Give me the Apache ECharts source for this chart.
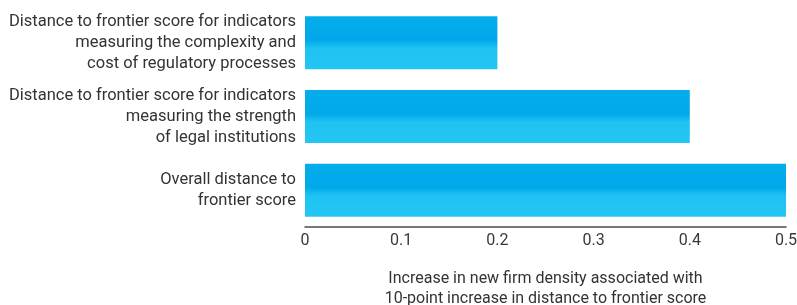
<!DOCTYPE html>
<html><head><meta charset="utf-8">
<script src="https://cdn.jsdelivr.net/npm/echarts@6/dist/echarts.min.js"></script>
<style>html,body{margin:0;padding:0;background:#fff}#c{width:797px;height:305px}</style>
</head><body><div id="c"></div>
<script>
const categories = [
  "Overall distance to\nfrontier score",
  "Distance to frontier score for indicators\nmeasuring the strength\nof legal institutions",
  "Distance to frontier score for indicators\nmeasuring the complexity and\ncost of regulatory processes"
];
const values = [0.5, 0.4, 0.2];
const xTicks = [0, 0.1, 0.2, 0.3, 0.4, 0.5];
const xAxisTitle = "Increase in new firm density associated with\n10-point increase in distance to frontier score";

const font = "Roboto, sans-serif";
const chart = echarts.init(document.getElementById('c'));
chart.setOption({
  animation: false,
  grid: { left: 305, right: 11, top: 6, bottom: 78, containLabel: false, outerBoundsMode: 'none' },
  xAxis: {
    type: 'value', min: 0, max: 0.5, interval: 0.1,
    axisLine: { show: true, lineStyle: { color: '#4a4a4a', width: 1.5 } },
    axisTick: { show: false },
    splitLine: { show: false },
    axisLabel: { color: '#3a3a3a', fontSize: 16, fontFamily: font, margin: 6,
      formatter: v => String(Math.round(v * 10) / 10) },
    name: xAxisTitle, nameLocation: 'middle', nameGap: 42,
    nameTextStyle: { color: '#333', fontSize: 16, fontFamily: font, lineHeight: 20 }
  },
  yAxis: {
    type: 'category', data: categories,
    axisLine: { show: false }, axisTick: { show: false },
    axisLabel: { color: '#333', fontSize: 16.5, fontFamily: font, lineHeight: 21, align: 'right', margin: 9 }
  },
  series: [{
    type: 'bar', data: values, barWidth: 53,
    itemStyle: {
      color: new echarts.graphic.LinearGradient(0, 0, 0, 1, [
        { offset: 0, color: '#06adec' },
        { offset: 0.45, color: '#00a8ea' },
        { offset: 0.6, color: '#1ec3f2' },
        { offset: 1, color: '#24c5f3' }
      ])
    }
  }]
});
</script></body></html>
